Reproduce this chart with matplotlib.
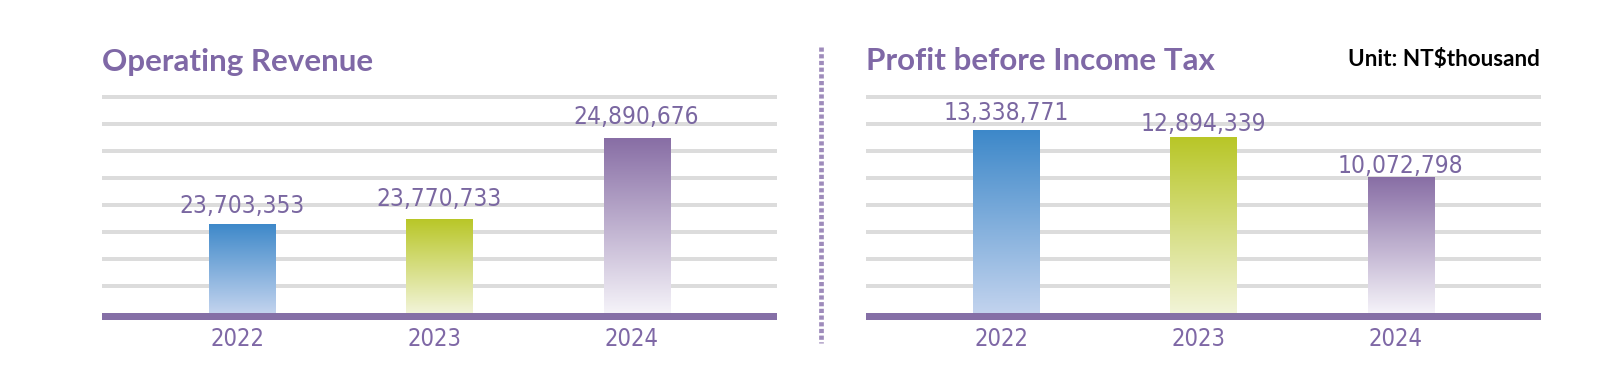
import matplotlib
matplotlib.use("Agg")
import matplotlib.pyplot as plt
import matplotlib.transforms as mtransforms
import numpy as np
from matplotlib.colors import LinearSegmentedColormap
from matplotlib.patches import Rectangle
from matplotlib.lines import Line2D

# ---- data ----
years = ["2022", "2023", "2024"]
revenue = [23703353, 23770733, 24890676]
profit = [13338771, 12894339, 10072798]
titles = ["Operating Revenue", "Profit before Income Tax"]
unit_text = "Unit: NT$thousand"

# ---- styles ----
W, H = 1624, 391
DPI = 100
purple = "#7f68a6"
label_purple = "#7a67a1"
grad_colors = [("#3d88c9", "#c2d3ee"), ("#b8c626", "#f2f4d8"), ("#886ea5", "#f5f3f9")]
ylims = [(22458600, 25469000), (646000, 15646000)]
label_offsets_px = [[11, 12.5, 14.5], [10, 6, 4]]

fig = plt.figure(figsize=(W / DPI, H / DPI), dpi=DPI)
fig.patch.set_facecolor("white")

def px2pt(p):
    return p * 72.0 / DPI

ax_h = 216
ax_bottom_px = 313
ax_w = 675
lefts = [102, 866]

num_font = dict(family="DejaVu Sans", fontstretch="condensed")
shift = mtransforms.ScaledTranslation(-5 / DPI, 0, fig.dpi_scale_trans)

for k, (vals, title) in enumerate(zip([revenue, profit], titles)):
    ax = fig.add_axes([lefts[k] / W, 1 - ax_bottom_px / H, ax_w / W, ax_h / H])
    x = np.arange(len(years))
    for s in ax.spines.values():
        s.set_visible(False)
    ax.set_yticks([])
    ax.set_xticks(x)
    ax.set_xticklabels(years, color=purple, fontsize=17, **num_font)
    ax.tick_params(axis="x", length=0, pad=px2pt(14.5))
    for lab in ax.get_xticklabels():
        lab.set_transform(lab.get_transform() + shift)

    # decorative gridlines
    for g in range(1, 9):
        ax.plot([0, 1], [g / 8, g / 8], transform=ax.transAxes, color="#dcdcdc",
                lw=px2pt(4), zorder=0, solid_capstyle="butt", clip_on=False)

    bars = ax.bar(x, vals, width=0.335, bottom=0, color="none", zorder=2)
    y0 = ylims[k][0]
    for i, (b, v) in enumerate(zip(bars, vals)):
        top_c, bot_c = grad_colors[i]
        cmap = LinearSegmentedColormap.from_list("g%d" % i, [bot_c, top_c])
        grad = np.linspace(0, 1, 256).reshape(-1, 1)
        xb = b.get_x()
        im = ax.imshow(grad, cmap=cmap, origin="lower", aspect="auto",
                       extent=(xb, xb + b.get_width(), y0, v), zorder=2,
                       interpolation="bilinear")
        im.set_clip_path(b)
        ax.annotate(f"{v:,}", xy=(x[i], v), xytext=(0, px2pt(label_offsets_px[k][i])),
                    textcoords="offset points", ha="center", va="baseline",
                    color=label_purple, fontsize=17.6, **num_font, zorder=3)
    ax.set_xlim(-0.713, 2.713)
    ax.set_ylim(*ylims[k])

    # baseline bar
    ax.add_patch(Rectangle((0, -7 / ax_h), 1, 7 / ax_h, transform=ax.transAxes,
                           color="#856fa6", clip_on=False, zorder=4, lw=0))

    fig.text(lefts[k] / W, 1 - 70.5 / H, title, ha="left", va="baseline",
             color=purple, fontsize=22.6, family="Lato", weight="bold")

fig.text(1540 / W, 1 - 65.7 / H, unit_text, ha="right", va="baseline",
         color="black", fontsize=16.2, family="Lato", weight="bold")

# dotted divider
lw_div = px2pt(4.7)
fig.add_artist(Line2D([821.3 / W, 821.3 / W], [1 - 47 / H, 1 - 343 / H],
                      transform=fig.transFigure, color="#9e8bbb", lw=lw_div,
                      linestyle=(0, (px2pt(4.2) / lw_div, px2pt(2.5) / lw_div)),
                      dash_capstyle="butt"))

fig.savefig("out.png", dpi=DPI, facecolor="white")
